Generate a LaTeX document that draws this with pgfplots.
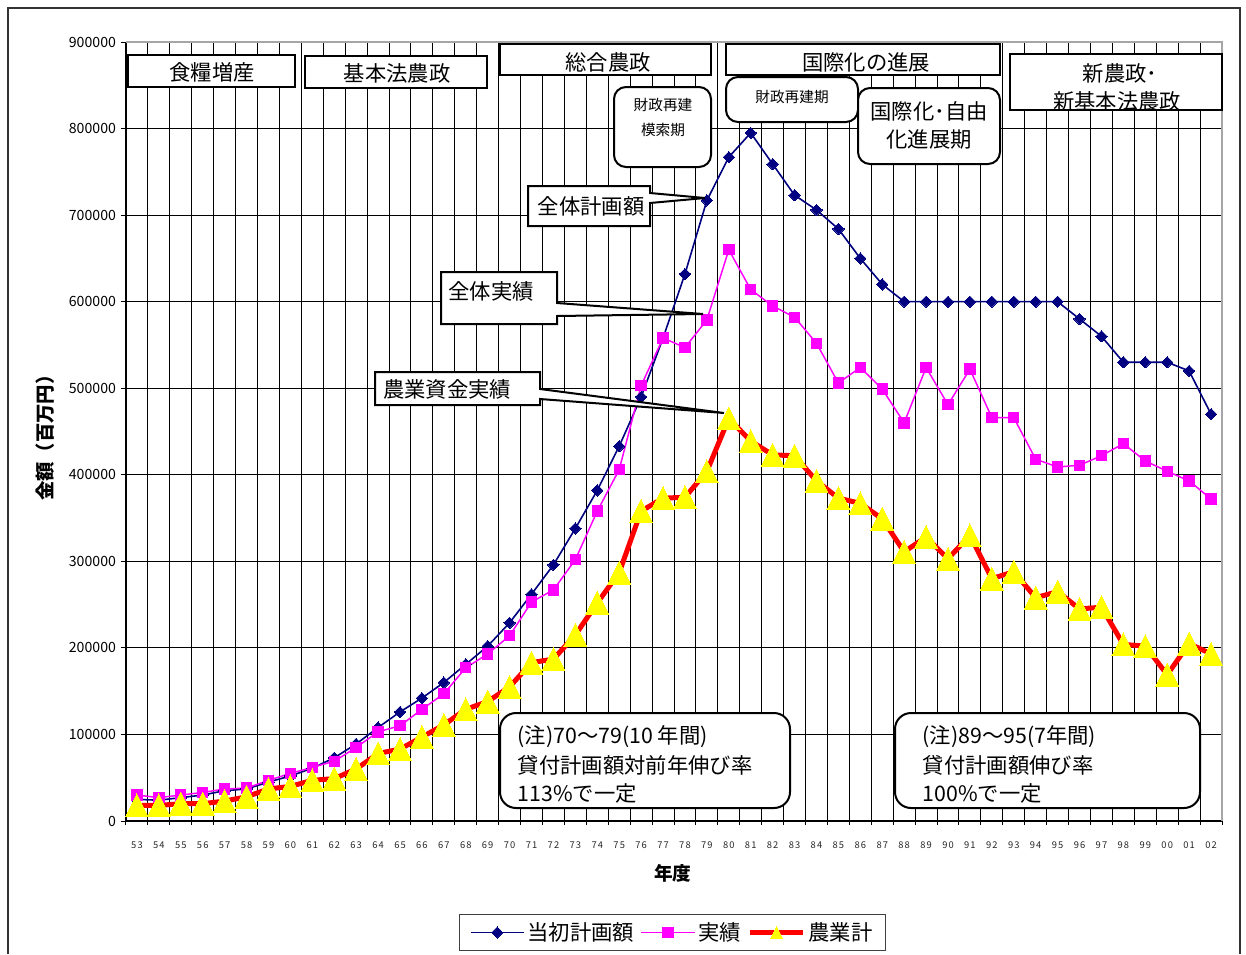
\documentclass[border=0pt]{standalone}
\usepackage{fontspec}
\setmainfont{Noto Sans CJK JP}
\usepackage{pgfplots}
\pgfplotsset{compat=1.18}
\usepackage{pgfplotstable}
\newcommand{\fs}[1]{\fontsize{#1}{#1}\selectfont}
\newfontfamily\tickfont{Noto Sans CJK JP}[LetterSpace=12]
\definecolor{navy}{RGB}{0,0,128}
\definecolor{mag}{RGB}{255,0,255}
\definecolor{ylw}{RGB}{255,255,0}
\pgfdeclareplotmark{xtri}{%
 \pgfpathmoveto{\pgfqpoint{0pt}{\pgfplotmarksize}}%
 \pgfpathlineto{\pgfqpoint{\pgfplotmarksize}{-\pgfplotmarksize}}%
 \pgfpathlineto{\pgfqpoint{-\pgfplotmarksize}{-\pgfplotmarksize}}%
 \pgfpathclose\pgfusepathqfillstroke}
\pgfplotstableread{
i plan act agri
0 25000 30000 18000
1 24000 27000 18000
2 27000 30000 20000
3 30000 33000 20000
4 35000 37000 23000
5 37000 38000 28000
6 45000 47000 37000
7 52000 55000 40000
8 61000 62000 47000
9 73000 69000 49000
10 89000 85000 60000
11 108000 103000 78000
12 126000 110000 83000
13 142000 129000 97000
14 160000 147000 111000
15 181000 177000 129000
16 202000 193000 138000
17 229000 214000 155000
18 262000 253000 183000
19 296000 267000 187000
20 338000 302000 215000
21 382000 358000 252000
22 433000 406000 287000
23 490000 503000 358000
24 558000 558000 373000
25 632000 547000 374000
26 717000 579000 404000
27 767000 660000 465000
28 795000 614000 439000
29 759000 595000 423000
30 723000 582000 422000
31 706000 552000 393000
32 684000 506000 373000
33 650000 524000 367000
34 620000 499000 349000
35 600000 460000 311000
36 600000 524000 328000
37 600000 481000 303000
38 600000 522000 330000
39 600000 466000 280000
40 600000 466000 288000
41 600000 418000 258000
42 600000 409000 265000
43 580000 411000 245000
44 560000 422000 247000
45 530000 436000 204000
46 530000 416000 202000
47 530000 404000 169000
48 520000 393000 205000
49 470000 372000 193000
}\data
\begin{document}
\begin{tikzpicture}
\useasboundingbox (-94.5pt,31.5pt) rectangle (840pt,-684pt);
\fill[white] (-94.5pt,31.5pt) rectangle (840pt,-684pt);
\begin{axis}[
  at={(0,0)}, anchor=north west,
  scale only axis, width=822pt, height=584.25pt,
  xmin=-0.5, xmax=49.5, ymin=0, ymax=900000,
  axis x line*=bottom, axis y line*=left,
  axis line style={black, line width=1.1pt},
  xtick={0,...,49},
  xticklabels={53,54,55,56,57,58,59,60,61,62,63,64,65,66,67,68,69,70,71,72,73,74,75,76,77,78,79,80,81,82,83,84,85,86,87,88,89,90,91,92,93,94,95,96,97,98,99,00,01,02},
  minor xtick={-0.5,0.5,...,49.5},
  ytick={0,100000,...,900000},
  scaled y ticks=false,
  yticklabel style={/pgf/number format/fixed, /pgf/number format/1000 sep={}, /pgf/number format/assume math mode=true, font=\fs{10.6}, text=black},
  xticklabel style={font=\tickfont\fs{7}, text=black!85, yshift=-8pt},
  tick align=outside,
  major x tick style={draw=none},
  major tick length=4pt, minor tick length=3pt,
  tick style={black, line width=0.75pt},
  xminorgrids, ymajorgrids,
  grid style={black, line width=0.75pt},
  minor grid style={black, line width=0.75pt},
  xlabel={\bfseries 年度}, ylabel={\bfseries 金額（百万円）},
  xlabel style={font=\fs{14}, at={(axis description cs:0.499,-0.0668)}, anchor=center},
  ylabel style={font=\fs{14.5}, at={(axis description cs:-0.0739,0.498)}, anchor=center},
  clip=false,
  legend style={at={(0.4986,-0.1431)}, anchor=center, draw=black!75, line width=0.75pt, font=\fs{16}, legend columns=3, inner xsep=8pt, inner ysep=4pt, /tikz/every even column/.append style={column sep=3pt}},
  legend image code/.code={\draw[#1, mark repeat=2, mark phase=2] plot coordinates {(0pt,0pt) (20pt,0pt) (40pt,0pt)};},
]
\draw[gray!70, line width=1.1pt] (rel axis cs:0,1) -- (rel axis cs:1,1) -- (rel axis cs:1,0);
\addplot[navy, line width=1.2pt, mark=square*, mark size=3pt, mark options={rotate=45, fill=navy, draw=navy, line width=0pt}] table[x=i, y=plan] {\data};
\addlegendentry{当初計画額}
\addplot[mag, line width=1.1pt, mark=square*, mark size=3.9pt, mark options={fill=mag, draw=mag, line width=0pt}] table[x=i, y=act] {\data};
\addlegendentry{実績}
\addplot[red, line width=3.75pt, mark=xtri, mark size=8.6pt, mark options={fill=ylw, draw=ylw, line width=0pt}, legend image post style={mark size=4.5pt}] table[x=i, y=agri] {\data};
\addlegendentry{農業計}
\end{axis}
\begin{scope}[x=0.75pt, y=-0.75pt, shift={(-126,-42)}]
\draw[black!80, line width=1.2pt] (8,954) -- (8,8) -- (1240,8) -- (1240,954);
\tikzset{bx/.style={draw=black, line width=1.5pt, fill=white}, rb/.style={draw=black, line width=1.5pt, fill=white, rounded corners=9pt}}
% period boxes
\draw[bx] (128,55) rectangle (295,87);
\node[font=\fs{16}] at (212,72) {食糧増産};
\draw[bx] (305,56) rectangle (487,88);
\node[font=\fs{16}] at (397,73) {基本法農政};
\draw[bx] (500,44) rectangle (711,75);
\node[font=\fs{16}] at (608,62) {総合農政};
\draw[bx] (726,44) rectangle (1000,75);
\node[font=\fs{16}] at (866,62) {国際化の進展};
\draw[bx] (1010,54) rectangle (1222,110);
\node[font=\fs{16}] at (1120,73) {新農政･};
\node[font=\fs{16}] at (1117,101) {新基本法農政};
% rounded boxes
\draw[rb] (614,87) rectangle (711,167);
\node[font=\fs{11}] at (663,105) {財政再建};
\node[font=\fs{11}] at (663,130) {模索期};
\draw[rb] (726,77) rectangle (858,122);
\node[font=\fs{11}] at (792,97) {財政再建期};
\draw[rb] (858,88) rectangle (1000,164);
\node[font=\fs{16}] at (929,111) {国際化･自由};
\node[font=\fs{16}] at (929,139) {化進展期};
% callouts
\draw[line width=1.5pt, fill=white, line join=miter] (528,186) -- (650,186) -- (650,193) -- (705,198) -- (650,203) -- (650,226) -- (528,226) -- cycle;
\node[font=\fs{16}] at (591,206) {全体計画額};
\draw[line width=1.5pt, fill=white, line join=miter] (441,272) -- (557,272) -- (557,303) -- (703,314) -- (557,316) -- (557,324) -- (441,324) -- cycle;
\node[font=\fs{16}] at (491,291) {全体実績};
\draw[line width=1.5pt, fill=white, line join=miter] (375,372) -- (540,372) -- (540,389) -- (724,413) -- (540,399) -- (540,405) -- (375,405) -- cycle;
\node[font=\fs{16}] at (447,389) {農業資金実績};
% notes
\draw[line width=1.5pt, fill=white, rounded corners=12pt] (500,713) rectangle (790,808);
\node[font=\fs{16}, anchor=west] at (513,737) {(注)70～79(10 年間)};
\node[font=\fs{16}, anchor=west] at (513,765) {貸付計画額対前年伸び率};
\node[font=\fs{16}, anchor=west] at (513,793) {113\%で一定};
\draw[line width=1.5pt, fill=white, rounded corners=12pt] (895,713) rectangle (1200,808);
\node[font=\fs{16}, anchor=west] at (918,737) {(注)89～95(7年間)};
\node[font=\fs{16}, anchor=west] at (918,765) {貸付計画額伸び率};
\node[font=\fs{16}, anchor=west] at (918,793) {100\%で一定};
\end{scope}
\end{tikzpicture}
\end{document}
